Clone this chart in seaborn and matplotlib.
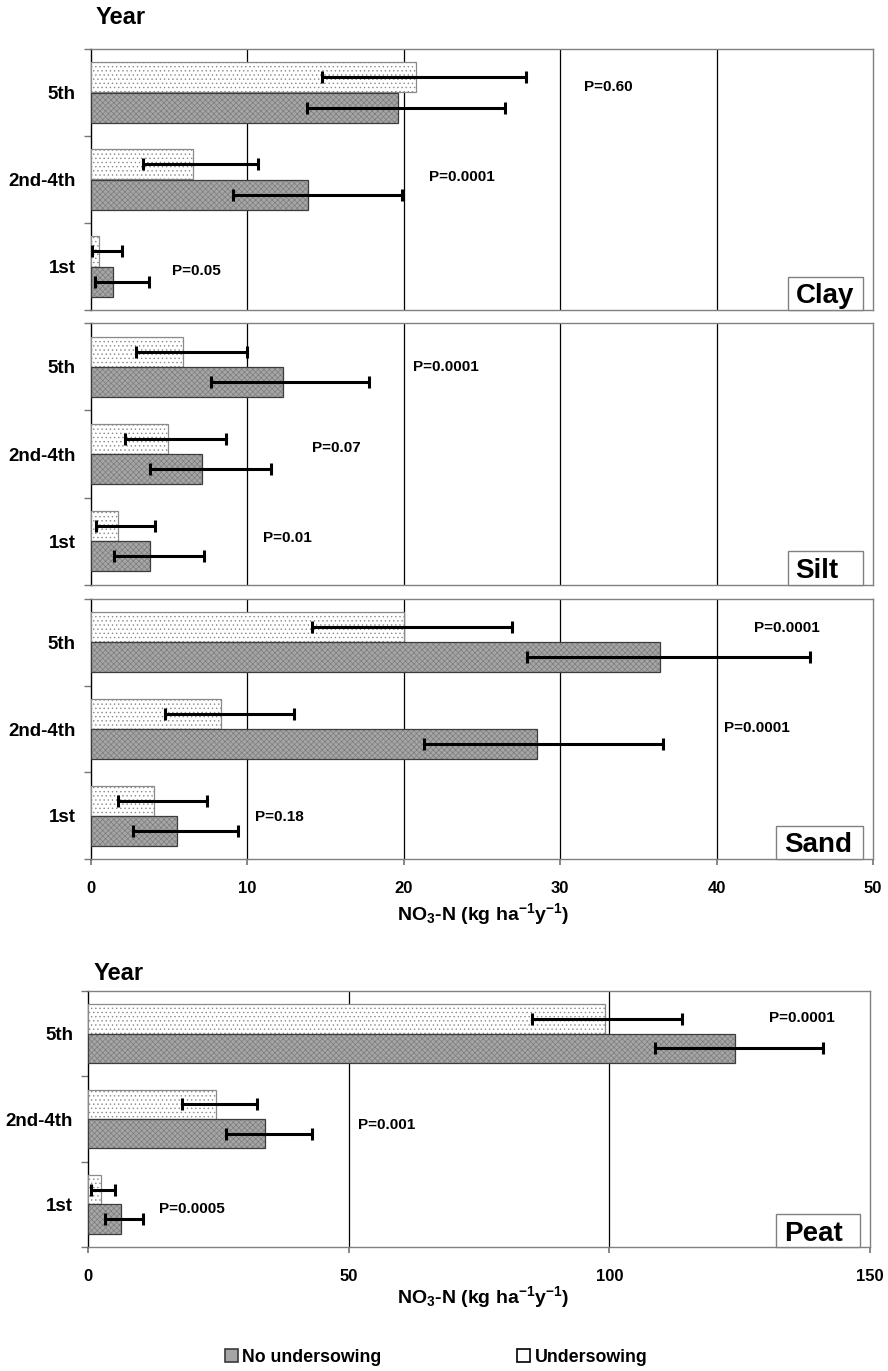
import numpy as np
import pandas as pd
import matplotlib
matplotlib.use("Agg")
import matplotlib.pyplot as plt
from matplotlib.patches import Rectangle
import seaborn as sns

# ---------------- data ----------------
years = ["5th", "2nd-4th", "1st"]
treatments = ["Undersowing", "No undersowing"]

clay_no = [19.6, 13.9, 1.4]
clay_no_lo = [13.8, 9.1, 0.25]
clay_no_hi = [26.5, 19.9, 3.7]
clay_und = [20.8, 6.5, 0.5]
clay_und_lo = [14.8, 3.3, 0.05]
clay_und_hi = [27.8, 10.7, 2.0]

silt_no = [12.3, 7.1, 3.8]
silt_no_lo = [7.7, 3.8, 1.5]
silt_no_hi = [17.8, 11.5, 7.2]
silt_und = [5.9, 4.9, 1.7]
silt_und_lo = [2.9, 2.2, 0.3]
silt_und_hi = [10.0, 8.6, 4.1]

sand_no = [36.4, 28.5, 5.5]
sand_no_lo = [27.9, 21.3, 2.7]
sand_no_hi = [46.0, 36.6, 9.4]
sand_und = [20.0, 8.3, 4.0]
sand_und_lo = [14.1, 4.7, 1.7]
sand_und_hi = [26.9, 13.0, 7.4]

peat_no = [124.1, 34.0, 6.2]
peat_no_lo = [108.8, 26.4, 3.3]
peat_no_hi = [141.0, 43.0, 10.5]
peat_und = [99.1, 24.6, 2.4]
peat_und_lo = [85.2, 18.0, 0.6]
peat_und_hi = [113.9, 32.3, 5.2]

clay_p = ["P=0.60", "P=0.0001", "P=0.05"]
silt_p = ["P=0.0001", "P=0.07", "P=0.01"]
sand_p = ["P=0.0001", "P=0.0001", "P=0.18"]
peat_p = ["P=0.0001", "P=0.001", "P=0.0005"]

x_ticks_top = [0, 10, 20, 30, 40, 50]
x_ticks_peat = [0, 50, 100, 150]

# ---------------- style ----------------
sns.set_theme(style="white")
plt.rcParams["font.family"] = ["Liberation Sans", "DejaVu Sans"]
plt.rcParams["hatch.linewidth"] = 0.5
plt.rcParams["mathtext.default"] = "regular"
for k in ["text.color", "axes.labelcolor", "xtick.labelcolor", "ytick.labelcolor"]:
    plt.rcParams[k] = "black"
NARROW = ["Liberation Sans Narrow", "Liberation Sans", "DejaVu Sans"]

W, H = 888, 1371
fig = plt.figure(figsize=(W / 100, H / 100), dpi=100)


def px_axes(left, top, right, bottom):
    return fig.add_axes([left / W, 1 - bottom / H, (right - left) / W, (bottom - top) / H])


def make_panel(ax, no, no_lo, no_hi, und, und_lo, und_hi, xmax, xticks,
               grid_ticks, pvals, ppos, soil, box_left, show_x):
    df = pd.DataFrame({
        "Year": years * 2,
        "Treatment": ["Undersowing"] * 3 + ["No undersowing"] * 3,
        "NO3": list(und) + list(no),
    })
    sns.barplot(data=df, x="NO3", y="Year", hue="Treatment", order=years,
                hue_order=treatments, orient="h", width=0.69, errorbar=None,
                legend=False, ax=ax, zorder=3)
    styles = {
        "Undersowing": dict(fc="white", hc="#8a8a8a", ec="#8a8a8a", hatch="...."),
        "No undersowing": dict(fc="#a6a6a6", hc="#7c7c7c", ec="#3c3c3c", hatch="xxxxxx"),
    }
    errs = {"Undersowing": (und, und_lo, und_hi), "No undersowing": (no, no_lo, no_hi)}
    for cont, tr in zip(ax.containers, treatments):
        st = styles[tr]
        vals, lo, hi = errs[tr]
        ys = []
        for p in cont.patches:
            p.set_facecolor(st["fc"])
            p.set_edgecolor(st["hc"])
            p.set_hatch(st["hatch"])
            p.set_linewidth(0.0)
            # outline drawn on top, copied from the bar itself
            ax.add_patch(Rectangle((p.get_x(), p.get_y()), p.get_width(), p.get_height(),
                                   fill=False, ec=st["ec"], lw=0.9, zorder=4))
            ys.append(p.get_y() + p.get_height() / 2)
        v = np.array(vals)
        xerr = np.vstack([v - np.array(lo), np.array(hi) - v])
        ax.errorbar(v, ys, xerr=xerr, fmt="none", ecolor="black", elinewidth=2.2,
                    capsize=4.5, capthick=2.2, zorder=5)

    ax.set_xlim(0, xmax)
    ax.set_ylim(2.5, -0.5)
    ax.set_xticks(xticks)
    for g in grid_ticks:
        ax.axvline(g, color="black", lw=0.9, zorder=1)
    ax.set_xlabel("")
    ax.set_ylabel("")
    ax.set_yticks([0, 1, 2])
    ax.set_yticklabels(years, fontsize=13.5, fontweight="bold")
    ax.set_yticks([-0.5, 0.5, 1.5, 2.5], minor=True)
    ax.tick_params(axis="y", which="major", length=0, pad=11)
    ax.tick_params(axis="y", which="minor", length=5, color="#777777", width=1, left=True)
    if show_x:
        ax.set_xticklabels([str(t) for t in xticks], fontsize=12, fontweight="bold",
                           family=NARROW)
        ax.tick_params(axis="x", length=4, color="#777777", pad=12, bottom=True)
    else:
        ax.set_xticklabels([])
        ax.tick_params(axis="x", length=0)
    for side, sp in ax.spines.items():
        sp.set_visible(True)
        sp.set_linewidth(1.0)
        sp.set_color("black" if side == "left" else "#808080")
    for txt, (px, py) in zip(pvals, ppos):
        ax.text(px, py, txt, fontsize=11, fontweight="bold", ha="left", va="center", zorder=6)
    # soil label box
    ax.add_patch(Rectangle((box_left, 0), 0.987 - box_left, 0.128, transform=ax.transAxes,
                           fc="white", ec="#808080", lw=1, zorder=6, clip_on=False))
    ax.text(box_left + 0.01, 0.025, soil, transform=ax.transAxes, fontsize=20,
            fontweight="bold", ha="left", va="baseline", zorder=7)


ax1 = px_axes(91, 49, 873, 310)
ax2 = px_axes(91, 323, 873, 585)
ax3 = px_axes(91, 599, 873, 859)
ax4 = px_axes(88.3, 991, 870, 1247)

make_panel(ax1, clay_no, clay_no_lo, clay_no_hi, clay_und, clay_und_lo, clay_und_hi,
           50, x_ticks_top, [10, 20, 30, 40], clay_p,
           [(31.5, -0.06), (21.6, 0.97), (5.2, 2.05)], "Clay", 0.891, False)
make_panel(ax2, silt_no, silt_no_lo, silt_no_hi, silt_und, silt_und_lo, silt_und_hi,
           50, x_ticks_top, [10, 20, 30, 40], silt_p,
           [(20.6, 0.0), (14.1, 0.93), (11.0, 1.96)], "Silt", 0.891, False)
make_panel(ax3, sand_no, sand_no_lo, sand_no_hi, sand_und, sand_und_lo, sand_und_hi,
           50, x_ticks_top, [10, 20, 30, 40], sand_p,
           [(42.4, -0.16), (40.5, 0.99), (10.5, 2.01)], "Sand", 0.876, True)
make_panel(ax4, peat_no, peat_no_lo, peat_no_hi, peat_und, peat_und_lo, peat_und_hi,
           150, x_ticks_peat, [50, 100], peat_p,
           [(130.6, -0.18), (51.7, 1.07), (13.5, 2.06)], "Peat", 0.880, True)

xlabel = "NO$_3$-N (kg ha$^{-1}$y$^{-1}$)"
fig.text(483 / W, 1 - 914 / H, xlabel, ha="center", va="center", fontsize=14,
         fontweight="bold", family=NARROW)
fig.text(483 / W, 1 - 1297 / H, xlabel, ha="center", va="center", fontsize=14,
         fontweight="bold", family=NARROW)

fig.text(96 / W, 1 - 17 / H, "Year", ha="left", va="center", fontsize=17, fontweight="bold")
fig.text(94 / W, 1 - 973 / H, "Year", ha="left", va="center", fontsize=17, fontweight="bold")

handles = [
    Rectangle((0, 0), 1, 1, fc="#a6a6a6", ec="#3a3a3a", lw=1.2),
    Rectangle((0, 0), 1, 1, fc="white", ec="black", lw=1.2),
]
fig.legend(handles, ["No undersowing", "Undersowing"], loc="center",
           bbox_to_anchor=(436 / W, 1 - 1357 / H), ncol=2, frameon=False,
           handlelength=0.75, handleheight=0.75, handletextpad=0.25,
           columnspacing=7.6, prop=dict(size=12.8, weight="bold"))

fig.savefig("out.png", dpi=100)
